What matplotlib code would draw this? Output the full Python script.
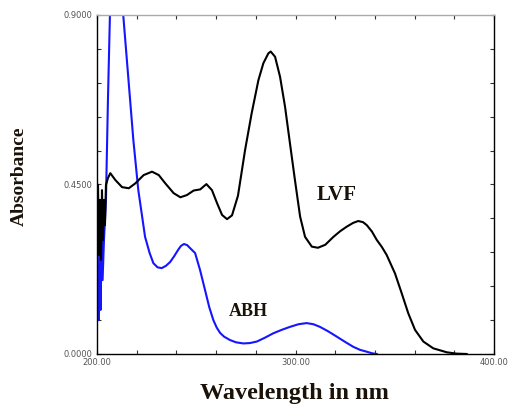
import matplotlib
matplotlib.use("Agg")
import matplotlib.pyplot as plt
import numpy as np

# LVF spectrum (wavelength nm, absorbance)
lvf_wl = [200.5, 201.0, 201.5, 202.0, 202.5, 203.0, 203.5, 204.0, 204.5, 205.5,
          206.7, 209.2, 212.6, 216.0, 219.3, 223.5, 227.7, 231.1, 234.4, 238.6,
          242.0, 245.3, 248.7, 252.0, 255.1, 257.9, 260.5, 263.0, 265.5, 268.0,
          271.0, 274.6, 277.9, 281.3, 283.8, 286.3, 287.5, 289.7, 292.2, 294.7,
          297.2, 299.7, 302.3, 304.8, 308.2, 311.3, 315.0, 319.1, 322.5, 325.8,
          329.0, 331.6, 334.0, 335.9, 338.5, 340.9, 343.5, 345.9, 350.1, 353.5,
          356.8, 360.2, 364.4, 369.4, 376.2, 381.0, 386.2]
lvf_abs = [0.449, 0.263, 0.409, 0.250, 0.435, 0.303, 0.409, 0.342, 0.449, 0.467,
           0.480, 0.462, 0.443, 0.440, 0.453, 0.475, 0.484, 0.475, 0.453, 0.427,
           0.416, 0.422, 0.434, 0.437, 0.451, 0.435, 0.400, 0.369, 0.358, 0.368,
           0.420, 0.542, 0.639, 0.727, 0.772, 0.798, 0.803, 0.789, 0.736, 0.657,
           0.559, 0.462, 0.365, 0.311, 0.285, 0.282, 0.290, 0.311, 0.326, 0.338,
           0.348, 0.353, 0.350, 0.342, 0.325, 0.303, 0.284, 0.263, 0.214, 0.161,
           0.108, 0.064, 0.033, 0.015, 0.0045, 0.001, 0.0]

# ABH spectrum
abh_wl = [200.3, 200.8, 201.3, 201.8, 202.3, 202.8, 203.5, 204.5, 205.5, 206.5,
          208.0, 209.5, 211.0, 213.2, 218.3, 220.8, 224.2, 226.5, 228.4, 230.5,
          232.6, 234.7, 236.8, 238.8, 240.8, 242.3, 243.8, 245.4, 246.9, 249.4,
          251.9, 254.4, 256.5, 258.6, 260.3, 262.0, 264.0, 267.0, 270.0, 273.7,
          277.0, 280.5, 284.5, 288.8, 293.0, 297.2, 301.5, 305.6, 309.0, 312.3,
          316.5, 320.8, 325.0, 329.1, 332.5, 335.9, 338.5, 340.9]
abh_abs = [0.223, 0.090, 0.409, 0.117, 0.329, 0.196, 0.303, 0.409, 0.674, 0.900,
           1.250, 1.300, 1.150, 0.900, 0.568, 0.435, 0.311, 0.268, 0.241, 0.230,
           0.228, 0.234, 0.244, 0.259, 0.276, 0.287, 0.292, 0.289, 0.281, 0.268,
           0.223, 0.170, 0.125, 0.090, 0.070, 0.056, 0.046, 0.037, 0.031, 0.028,
           0.029, 0.033, 0.043, 0.055, 0.064, 0.072, 0.079, 0.082, 0.079, 0.072,
           0.060, 0.046, 0.032, 0.019, 0.011, 0.006, 0.002, 0.0]

x_ticks = [200, 300, 400]
x_ticklabels = ["200.00", "300.00", "400.00"]
y_ticks = [0.0, 0.45, 0.9]
y_ticklabels = ["0.0000", "0.4500", "0.9000"]

fig = plt.figure(figsize=(5.12, 4.04), dpi=100)
ax = fig.add_axes([0.1895, 0.1238, 0.7754, 0.8391])

ax.plot(abh_wl, abh_abs, color="#1515ff", lw=1.5, clip_on=True)
ax.plot(lvf_wl, lvf_abs, color="black", lw=1.5, clip_on=True)

ax.set_xlim(200, 400)
ax.set_ylim(0, 0.9)

ax.set_xticks(np.arange(200, 401, 20), minor=True)
ax.set_yticks(np.arange(0, 0.901, 0.09), minor=True)
ax.set_xticks(x_ticks)
ax.set_xticklabels(x_ticklabels)
ax.set_yticks(y_ticks)
ax.set_yticklabels(y_ticklabels)
ax.tick_params(which="both", direction="in", top=True, right=True,
               length=3, width=0.8, labelsize=6, colors="#333333", pad=3)
for lbl in ax.get_xticklabels() + ax.get_yticklabels():
    lbl.set_color("#555555")

for s in ["left", "bottom", "right"]:
    ax.spines[s].set_color("black")
    ax.spines[s].set_linewidth(1.0)
ax.spines["top"].set_color("#aaaaaa")
ax.spines["top"].set_linewidth(1.0)

serif = ["Liberation Serif", "DejaVu Serif"]
ax.text(320.9, 0.422, "LVF", family=serif, fontweight="bold", fontsize=15,
        color="#1a1208", ha="center", va="center")
ax.text(276.1, 0.1115, "ABH", family=serif, fontweight="bold", fontsize=13,
        color="#1a1208", ha="center", va="center")

fig.text(0.037, 0.564, "Absorbance", family=serif, fontweight="bold",
         fontsize=14, rotation=90, ha="center", va="center", color="#1a1208")
fig.text(0.576, 0.025, "Wavelength in nm", family=serif, fontweight="bold",
         fontsize=17.5, ha="center", va="center", color="#1a1208")

fig.savefig("out.png", dpi=100)
